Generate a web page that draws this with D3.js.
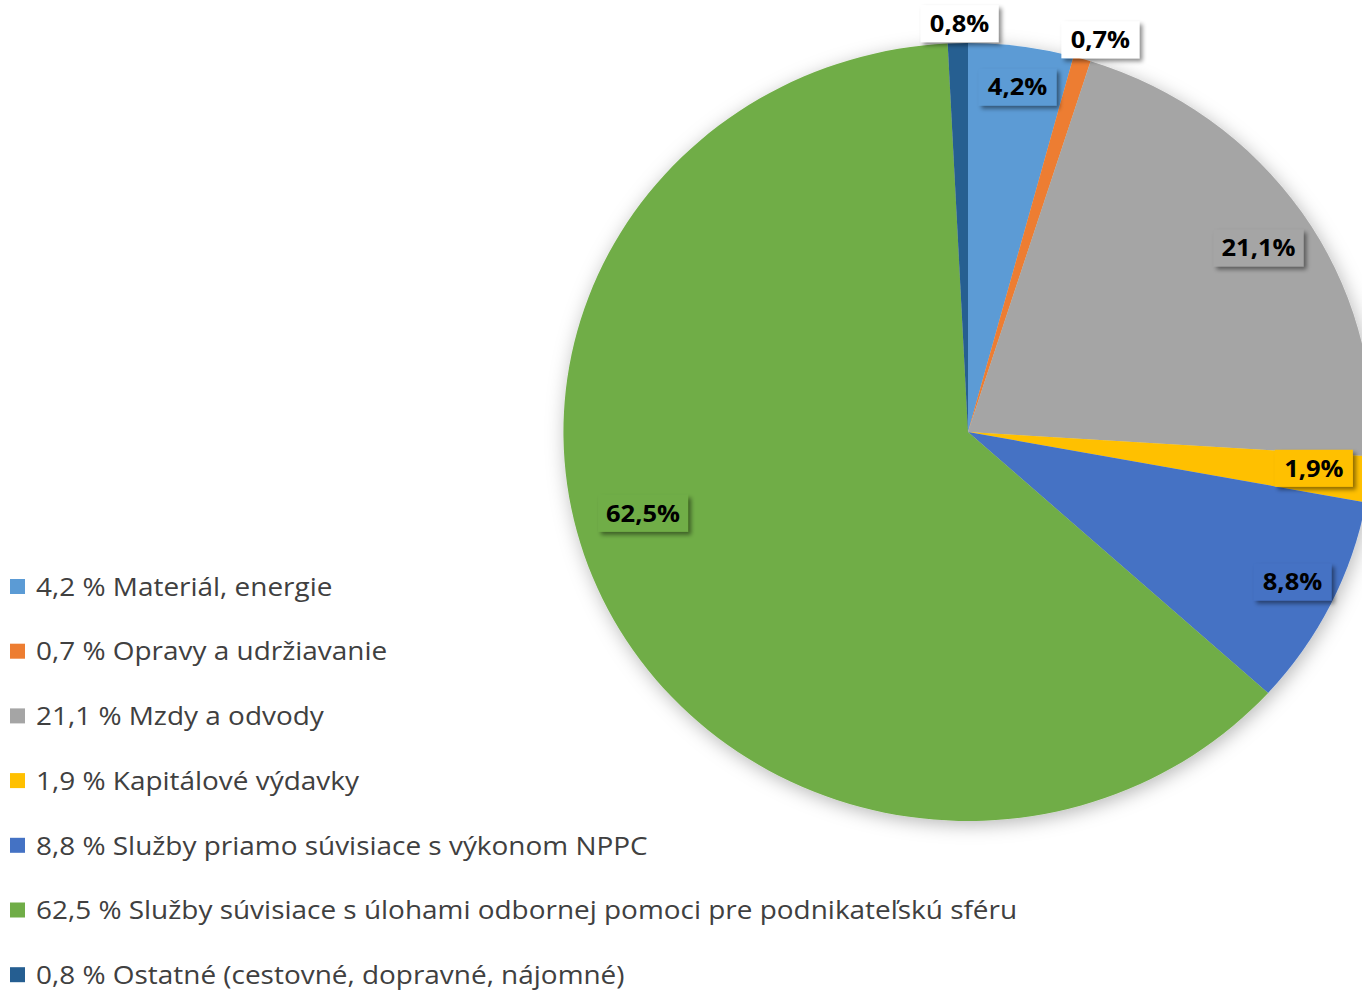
<!DOCTYPE html>
<html>
<head>
<meta charset="utf-8">
<script src="https://cdn.jsdelivr.net/npm/d3@7"></script>
<style>
  body { margin: 0; background: #fff; }
  svg { display: block; }
</style>
</head>
<body>
<div id="chart"></div>
<script>
// data
var categories = [
  "Materiál, energie",
  "Opravy a udržiavanie",
  "Mzdy a odvody",
  "Kapitálové výdavky",
  "Služby priamo súvisiace s výkonom NPPC",
  "Služby súvisiace s úlohami odbornej pomoci pre podnikateľskú sféru",
  "Ostatné (cestovné, dopravné, nájomné)"
];
var values = [4.2, 0.7, 21.1, 1.9, 8.8, 62.5, 0.8];
var colors = ["#5B9BD5", "#ED7D31", "#A5A5A5", "#FFC000", "#4472C4", "#70AD47", "#255E91"];

// label placement (radius factor, angle shift in degrees, outside or not)
var labelPlace = [
  { k: 0.895, da: 0.3, out: false },
  { k: 1.06, da: 1.6, out: true },
  { k: 0.86, da: 1.0, out: false },
  { k: 0.86, da: -0.8, out: false },
  { k: 0.89, da: -0.6, out: false },
  { k: 0.83, da: 10.8, out: false },
  { k: 1.05, da: 0.3, out: true }
];

var width = 1362, height = 990;
var cx = 968, cy = 432, r = 389, sx = 1.04;
var textStretch = 1.11;

var fmt = function(v) { return v.toFixed(1).replace(".", ","); };

var svg = d3.select("#chart").append("svg")
  .attr("width", width)
  .attr("height", height);

var defs = svg.append("defs");
var glow = defs.append("filter").attr("id", "pieShadow")
  .attr("x", "-20%").attr("y", "-20%").attr("width", "140%").attr("height", "140%");
glow.append("feDropShadow").attr("dx", 2).attr("dy", 4).attr("stdDeviation", 9)
  .attr("flood-color", "#000").attr("flood-opacity", 0.28);

var boxSh = defs.append("filter").attr("id", "boxShadow")
  .attr("x", "-30%").attr("y", "-40%").attr("width", "160%").attr("height", "200%");
boxSh.append("feDropShadow").attr("dx", 3).attr("dy", 3).attr("stdDeviation", 2.2)
  .attr("flood-color", "#000").attr("flood-opacity", 0.45);

var pie = d3.pie().sort(null).value(function(d) { return d; });
var arcs = pie(values);
var arc = d3.arc().innerRadius(0).outerRadius(r);

var g = svg.append("g")
  .attr("transform", "translate(" + cx + "," + cy + ") scale(" + sx + ",1)");

g.append("g").attr("filter", "url(#pieShadow)")
  .selectAll("path")
  .data(arcs)
  .enter().append("path")
  .attr("d", arc)
  .attr("fill", function(d, i) { return colors[i]; });

// data labels
var lab = svg.append("g")
  .attr("transform", "translate(" + cx + "," + cy + ")");

arcs.forEach(function(d, i) {
  var p = labelPlace[i];
  var a = (d.startAngle + d.endAngle) / 2 + p.da * Math.PI / 180;
  var x = Math.sin(a) * r * p.k * sx;
  var y = -Math.cos(a) * r * p.k;
  var t = fmt(values[i]) + "%";
  var lg = lab.append("g").attr("transform", "translate(" + x + "," + y + ")");
  var bw = t.length > 4 ? 90 : 78, bh = 37;
  lg.append("rect")
    .attr("x", -bw / 2).attr("y", -bh / 2)
    .attr("width", bw).attr("height", bh)
    .attr("fill", p.out ? "#fff" : colors[i])
    .attr("filter", "url(#boxShadow)");
  lg.append("text")
    .attr("transform", "scale(" + textStretch + ",1)")
    .attr("text-anchor", "middle")
    .attr("dy", "0.36em")
    .attr("font-family", "'Open Sans', Lato, sans-serif")
    .attr("font-weight", "bold")
    .attr("font-size", 23)
    .attr("fill", "#000")
    .text(t);
});

// legend
var legend = svg.append("g").attr("transform", "translate(10,587)");
var row = legend.selectAll("g")
  .data(categories)
  .enter().append("g")
  .attr("transform", function(d, i) { return "translate(0," + (i * 64.7) + ")"; });

row.append("rect")
  .attr("x", 0).attr("y", -8)
  .attr("width", 15).attr("height", 15)
  .attr("fill", function(d, i) { return colors[i]; });

row.append("text")
  .attr("transform", "translate(26,0) scale(1.118,1)")
  .attr("dy", "0.35em")
  .attr("font-family", "'Open Sans', Lato, sans-serif")
  .attr("font-size", 25)
  .attr("fill", "#404040")
  .text(function(d, i) { return fmt(values[i]) + " % " + d; });
</script>
</body>
</html>
